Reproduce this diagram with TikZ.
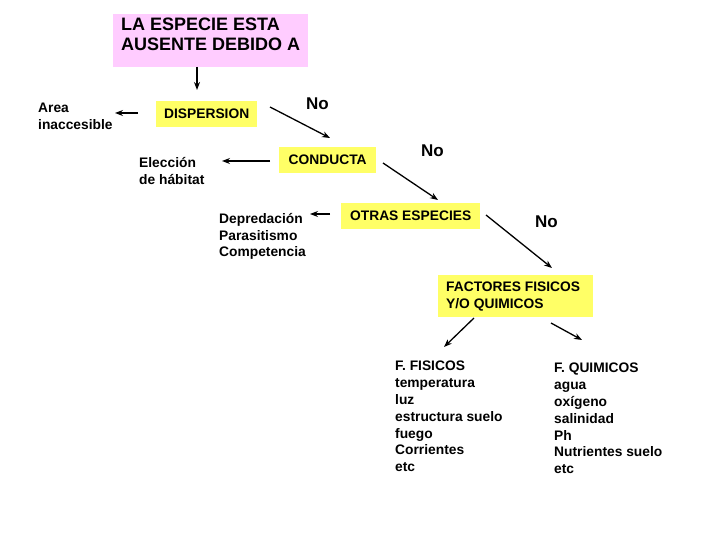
\documentclass[tikz,border=0pt]{standalone}
\usepackage{fontspec}
\setmainfont{Liberation Sans}
\usetikzlibrary{arrows.meta}
\definecolor{pinkbox}{HTML}{FFCCFF}
\definecolor{yelbox}{HTML}{FFFF66}
\begin{document}
\begin{tikzpicture}[x=1pt,y=-1pt,
  txt/.style={font=\fontsize{13.8}{16.8}\selectfont\bfseries, align=left, anchor=north west, inner sep=0pt},
  ybox/.style={fill=yelbox, font=\fontsize{13.8}{16.8}\selectfont\bfseries, inner sep=0pt},
  nolab/.style={font=\fontsize{17}{18}\selectfont\bfseries, anchor=north west, inner sep=0pt},
  arr/.style={line width=1.3pt, -{Stealth[length=8pt,width=6pt]}}]
\useasboundingbox (0,0) rectangle (720,540);
% main box
\node[fill=pinkbox, anchor=north west, minimum width=195pt, minimum height=53pt, inner sep=0pt] (top) at (113,14) {};
\node[anchor=north west, inner sep=0pt, align=left, font=\fontsize{18}{20}\selectfont\bfseries] (toptxt) at (121,18) {LA ESPECIE ESTA\\AUSENTE DEBIDO A};
% yellow boxes
\node[ybox, anchor=north west, minimum width=101pt, minimum height=26pt] (disp) at (156,101) {DISPERSION};
\node[ybox, anchor=north west, minimum width=97pt, minimum height=26pt] (cond) at (279,147) {CONDUCTA};
\node[ybox, anchor=north west, minimum width=139pt, minimum height=26pt] (otras) at (341,203) {OTRAS ESPECIES};
\node[fill=yelbox, anchor=north west, minimum width=155pt, minimum height=42pt, inner sep=0pt] (fact) at (438,275) {};
\node[txt] (facttxt) at (446,282) {FACTORES FISICOS\\Y/O QUIMICOS};
% text nodes
\node[txt] (area) at (38,103) {Area\\inaccesible};
\node[txt] (elec) at (139,157) {Elección\\de hábitat};
\node[txt] (depr) at (219,213) {Depredación\\Parasitismo\\Competencia};
\node[txt] (fis) at (395,361) {F. FISICOS\\temperatura\\luz\\estructura suelo\\fuego\\Corrientes\\etc};
\node[txt] (qui) at (554,363) {F. QUIMICOS\\agua\\oxígeno\\salinidad\\Ph\\Nutrientes suelo\\etc};
\node[nolab] (no1) at (306,98) {No};
\node[nolab] (no2) at (421,145) {No};
\node[nolab] (no3) at (535,216) {No};
% arrow end coordinates
\coordinate (a1s) at (197,67); \coordinate (a1e) at (197,90);
\coordinate (a2s) at (138,113); \coordinate (a2e) at (115,113);
\coordinate (a3s) at (270,107); \coordinate (a3e) at (330,138);
\coordinate (a4s) at (270,161); \coordinate (a4e) at (222,161);
\coordinate (a5s) at (383,163); \coordinate (a5e) at (438,200);
\coordinate (a6s) at (330,214); \coordinate (a6e) at (310,214);
\coordinate (a7s) at (486,215); \coordinate (a7e) at (552,268);
\coordinate (a8s) at (474,318); \coordinate (a8e) at (444,347);
\coordinate (a9s) at (551,323); \coordinate (a9e) at (582,340);
\draw[arr] (a1s) -- (a1e);
\draw[arr] (a2s) -- (a2e);
\draw[arr] (a3s) -- (a3e);
\draw[arr] (a4s) -- (a4e);
\draw[arr] (a5s) -- (a5e);
\draw[arr] (a6s) -- (a6e);
\draw[arr] (a7s) -- (a7e);
\draw[arr] (a8s) -- (a8e);
\draw[arr] (a9s) -- (a9e);
\end{tikzpicture}
\end{document}
